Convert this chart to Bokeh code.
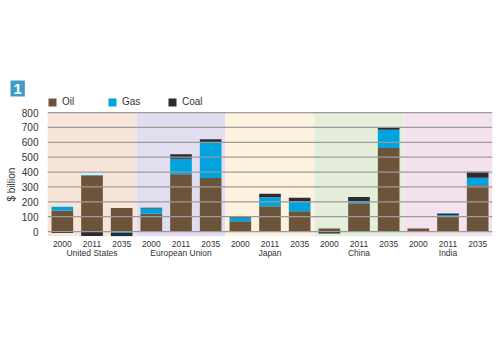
import numpy as np
from bokeh.plotting import figure
from bokeh.models import FactorRange, Legend, LegendItem, Title, FixedTicker, Span
from bokeh.embed import file_html
from bokeh.resources import INLINE

groups = ["United States", "European Union", "Japan", "China", "India"]
years = ["2000", "2011", "2035"]
band_colors = ["#f7e5da", "#e2def0", "#fdf1df", "#e5eddb", "#f4e3ef"]

oil = [142, 375, 158, 120, 385, 360, 70, 170, 137, 20, 190, 562, 20, 102, 312]
gas = [25, 5, -10, 35, 105, 240, 22, 60, 65, 0, 15, 122, 0, 10, 50]
coal = [-10, -30, -22, 5, 30, 20, 5, 25, 25, -12, 28, 14, 0, 10, 40]

y_ticks = [0, 100, 200, 300, 400, 500, 600, 700, 800]

factors = [(g, y) for g in groups for y in years]

FONT = "Liberation Sans"
TXT = "#333333"

p = figure(width=500, height=350, output_backend="svg", toolbar_location=None,
           x_range=FactorRange(*factors, factor_padding=0, group_padding=0, range_padding=0),
           y_range=(-33, 908),
           min_border_left=47, min_border_right=8, min_border_top=96, min_border_bottom=114)
p.outline_line_color = None
p.background_fill_color = "white"

band_x = [(g, years[1]) for g in groups]
p.vbar(x=band_x, width=3, bottom=-33, top=800, color=band_colors, line_color=None)

oil_a = np.array(oil, float)
gas_a = np.array(gas, float)
coal_a = np.array(coal, float)
pos = np.zeros(len(factors))
neg = np.zeros(len(factors))
rends = []
for vals, col in [(oil_a, "#6b543a"), (gas_a, "#00a3de"), (coal_a, "#2d2b30")]:
    bottoms = np.where(vals >= 0, pos, neg + vals)
    tops = np.where(vals >= 0, pos + vals, neg)
    pos = np.where(vals >= 0, pos + vals, pos)
    neg = np.where(vals < 0, neg + vals, neg)
    r = p.vbar(x=factors, width=0.73, bottom=[float(b) for b in bottoms],
               top=[float(t) for t in tops], fill_color=col, line_color=None)
    rends.append(r)

# horizontal grid lines drawn above the bars
p.ygrid.grid_line_color = None
p.xgrid.grid_line_color = None
for t in y_ticks:
    p.add_layout(Span(location=t, dimension="width", line_color="#9b9b9b", line_width=1.2))

p.yaxis.ticker = FixedTicker(ticks=y_ticks)
p.yaxis.axis_line_color = None
p.yaxis.major_tick_line_color = None
p.yaxis.minor_tick_line_color = None
p.yaxis.major_label_text_font = FONT
p.yaxis.major_label_text_font_size = "10px"
p.yaxis.major_label_text_color = TXT
p.yaxis.major_label_standoff = 3

p.add_layout(Title(text="$ billion", align="left", offset=35, standoff=4,
                   text_font=FONT, text_font_size="10px", text_font_style="normal",
                   text_color=TXT), "left")

p.xaxis.axis_line_color = None
p.xaxis.major_tick_line_color = None
p.xaxis.minor_tick_line_color = None
p.xaxis.major_label_text_font = FONT
p.xaxis.major_label_text_font_size = "8.5px"
p.xaxis.major_label_text_color = TXT
p.xaxis.major_label_standoff = -2
p.xaxis.group_text_font = FONT
p.xaxis.group_text_font_size = "8.5px"
p.xaxis.group_text_font_style = "normal"
p.xaxis.group_text_color = TXT
p.xaxis.separator_line_color = None

legend = Legend(items=[LegendItem(label=n, renderers=[r]) for n, r in zip(["Oil", "Gas", "Coal"], rends)],
                orientation="horizontal", location=(0, 129),
                glyph_width=10, glyph_height=10, label_standoff=5, label_width=40,
                spacing=5, padding=0, margin=0,
                label_text_font=FONT, label_text_font_size="10px", label_text_color=TXT,
                background_fill_alpha=0, border_line_color=None)
p.add_layout(legend)

p.title = Title(text="1", align="left", offset=-37, standoff=0,
                text_color="white", text_font=FONT, text_font_size="15px", text_font_style="bold",
                background_fill_color="#3d9cc8", padding=3)

open("out.html", "w").write(file_html(p, INLINE))
